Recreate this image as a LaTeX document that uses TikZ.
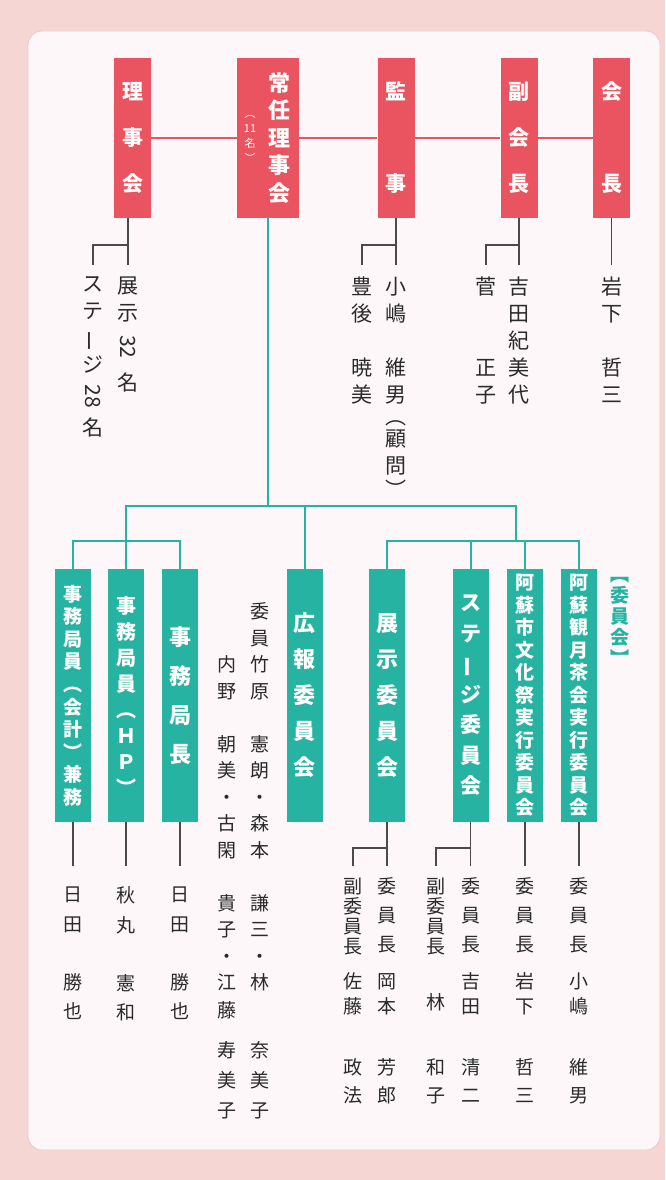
\documentclass[tikz,border=0pt]{standalone}
\usepackage{fontspec}
\usepackage{graphicx}
\newfontfamily\jp{Noto Sans CJK JP}
\newcommand\vbar{\rotatebox[origin=c]{90}{ー}}
\newcommand\rotnum[1]{\rotatebox[origin=c]{-90}{#1}}
\newcommand\tightlines{\lineskiplimit=-1000pt\lineskip=0pt\relax}
\definecolor{bgpink}{HTML}{F6D6D3}
\definecolor{panel}{HTML}{FDF7FA}
\definecolor{paneledge}{HTML}{EBC9CB}
\definecolor{boxred}{HTML}{EA5460}
\definecolor{boxteal}{HTML}{27B3A2}
\definecolor{linegray}{HTML}{4A4A4A}
\definecolor{ink}{HTML}{2A2A2A}
\begin{document}
\begin{tikzpicture}[x=1pt,y=-1pt,
  redbox/.style={fill=boxred, minimum width=37pt, minimum height=160pt, inner sep=0pt,
    text=white, align=center, font=\jp\bfseries\tightlines\fontsize{21}{46}\selectfont},
  tealbox/.style={fill=boxteal, minimum width=36pt, minimum height=253pt, inner sep=0pt,
    text=white, align=center},
  tf/.style n args={2}{font=\jp\bfseries\tightlines\fontsize{#1}{#2}\selectfont},
  unames/.style={anchor=north, inner sep=0pt, align=center, text=ink,
    font=\jp\tightlines\fontsize{21}{27}\selectfont},
  lnames/.style={anchor=north, inner sep=0pt, align=center, text=ink,
    font=\jp\tightlines\fontsize{19}{20}\selectfont},
  redline/.style={draw=boxred, line width=1.6pt},
  tealline/.style={draw=boxteal, line width=2pt},
  nameline/.style={draw=linegray, line width=1.2pt}
]
\fill[bgpink] (0,0) rectangle (665,1180);
\useasboundingbox (0,0) rectangle (665,1180);
\filldraw[fill=panel, draw=paneledge, line width=0.8pt, rounded corners=14pt] (28,31) rectangle (660,1150);

% ---- top row (red) ----
\node[redbox] (kaicho) at (611.5,138) {会\\[46pt]長};
\node[redbox] (fuku) at (519,138) {副\\会\\長};
\node[redbox] (kansa) at (396,138) {監\\[46pt]事};
\node[redbox, minimum width=62pt] (jonin) at (268,138) {};
\node[text=white, align=center, inner sep=0pt, font=\jp\bfseries\tightlines\fontsize{22}{27.5}\selectfont] (jonin-t) at (279,138) {常\\任\\理\\事\\会};
\node[text=white, align=center, inner sep=0pt, font=\jp\tightlines\fontsize{11}{15}\selectfont] (jonin-s) at (250,139) {︵\\11\\名\\︶};
\node[redbox] (rijikai) at (132.5,138) {理\\事\\会};

\draw[redline] (rijikai) -- (jonin);
\draw[redline] (jonin) -- (kansa);
\draw[redline] (kansa) -- (fuku);
\draw[redline] (fuku) -- (kaicho);

% ---- top names ----
\node[unames] (n-iwashita) at (611.5,276.5) {岩\\下\\[27pt]哲\\三};
\node[unames] (n-yoshida) at (519,276.5) {吉\\田\\紀\\美\\代};
\node[unames] (n-suga) at (486,276.5) {菅\\[54pt]正\\子};
\node[unames] (n-kojima) at (396,276.5) {小\\嶋\\[27pt]維\\男\\[-5pt]︵\\[-5pt]顧\\問\\[-3pt]︶};
\node[unames] (n-bungo) at (362,276.5) {豊\\後\\[27pt]暁\\美};
\node[unames] (n-tenji32) at (128,276.5) {展\\示\\[7pt]\rotnum{32}\\[9pt]名};
\node[unames] (n-stage28) at (93,276.5) {ス\\テ\\\vbar\\ジ\\[4pt]\rotnum{28}\\[5pt]名};

\coordinate (topEnd) at (0,265);
\coordinate (topBr) at (0,245);
\draw[nameline] (kaicho.south) -- (kaicho.south |- topEnd);
\draw[nameline] (fuku.south) -- (fuku.south |- topEnd);
\draw[nameline] (fuku.south |- topBr) -| (n-suga.north |- topEnd);
\draw[nameline] (kansa.south) -- (kansa.south |- topEnd);
\draw[nameline] (kansa.south |- topBr) -| (n-bungo.north |- topEnd);
\draw[nameline] (n-tenji32.north |- rijikai.south) -- (n-tenji32.north |- topEnd);
\draw[nameline] (n-tenji32.north |- topBr) -| (n-stage28.north |- topEnd);

% ---- committees (teal) ----
\node[tealbox, tf={19}{22.5}] (tsukimi) at (579,695.5) {阿\\蘇\\観\\月\\茶\\会\\実\\行\\委\\員\\会};
\node[tealbox, tf={19}{22.5}] (bunka) at (525,695.5) {阿\\蘇\\市\\文\\化\\祭\\実\\行\\委\\員\\会};
\node[tealbox, tf={21}{30.5}] (stage) at (470.5,695.5) {ス\\テ\\\vbar\\ジ\\委\\員\\会};
\node[tealbox, tf={22}{36}] (tenji) at (387,695.5) {展\\示\\委\\員\\会};
\node[tealbox, tf={22}{36}] (kouhou) at (304.5,695.5) {広\\報\\委\\員\\会};
\node[tealbox, tf={22}{39}] (kyokucho) at (180,695.5) {事\\務\\局\\長};
\node[tealbox, tf={20}{26}] (hp) at (126,695.5) {事\\務\\局\\員\\︵\\Ｈ\\Ｐ\\︶};
\node[tealbox, tf={19}{22.6}] (kaikei) at (73,695.5) {事\\務\\局\\員\\︵\\会\\計\\︶\\兼\\務};

\node[anchor=north, inner sep=0pt, align=center, text=boxteal, tf={19}{21}] (iinkai-label) at (620,577) {︻\\委\\員\\会\\︼};

\coordinate (busL) at (126,506);
\coordinate (busR) at (516,506);
\coordinate (grR) at (516,541);
\coordinate (grL) at (126,541);
\draw[tealline] (jonin.south) -- (jonin.south |- busL);
\draw[tealline] (hp.north) -- (busL) -- (busR) -- (grR);
\draw[tealline] (kouhou.north |- busL) -- (kouhou.north);
\draw[tealline] (tenji.north) -- (tenji.north |- grR) -- (tsukimi.north |- grR) -- (tsukimi.north);
\draw[tealline] (bunka.north |- grR) -- (bunka.north);
\draw[tealline] (stage.north |- grR) -- (stage.north);
\draw[tealline] (kaikei.north) -- (kaikei.north |- grL) -- (kyokucho.north |- grL) -- (kyokucho.north);

% ---- committee names ----
\node[lnames] (n-tsukimi) at (579,877.5) {委\\[9pt]員\\[9pt]長\\[17pt]小\\[5pt]嶋\\[41pt]維\\[8pt]男};
\node[lnames] (n-bunka) at (525,877.5) {委\\[9pt]員\\[9pt]長\\[17pt]岩\\[5pt]下\\[41pt]哲\\[8pt]三};
\node[lnames] (n-stage1) at (470.5,877.5) {委\\[9pt]員\\[9pt]長\\[17pt]吉\\[5pt]田\\[41pt]清\\[8pt]二};
\node[lnames] (n-stage2) at (436,877.5) {副\\委\\員\\長\\[36pt]林\\[45pt]和\\[8pt]子};
\node[lnames] (n-tenji1) at (387,877.5) {委\\[9pt]員\\[9pt]長\\[17pt]岡\\[5pt]本\\[41pt]芳\\[8pt]郎};
\node[lnames] (n-tenji2) at (353,877.5) {副\\委\\員\\長\\[15pt]佐\\[5pt]藤\\[41pt]政\\[8pt]法};
\node[lnames] (n-kouhou1) at (260,602.5) {委\\[6.5pt]員\\[6.5pt]竹\\[6.5pt]原\\[33pt]憲\\[6.5pt]朗\\[6.5pt]・\\[6.5pt]森\\[6.5pt]本\\[33pt]謙\\[6.5pt]三\\[6.5pt]・\\[6.5pt]林\\[48pt]奈\\[10pt]美\\[10pt]子};
\node[lnames] (n-kouhou2) at (227,655.5) {内\\[6.5pt]野\\[33pt]朝\\[6.5pt]美\\[6.5pt]・\\[6.5pt]古\\[6.5pt]閑\\[33pt]貴\\[6.5pt]子\\[6.5pt]・\\[6.5pt]江\\[8pt]藤\\[20pt]寿\\[10pt]美\\[10pt]子};
\node[lnames] (n-kyokucho) at (180,886.5) {日\\[10pt]田\\[38pt]勝\\[9pt]也};
\node[lnames] (n-hp) at (126,886.5) {秋\\[10pt]丸\\[38pt]憲\\[9pt]和};
\node[lnames] (n-kaikei) at (73,886.5) {日\\[10pt]田\\[38pt]勝\\[9pt]也};

\coordinate (botEnd) at (0,866);
\coordinate (botBr) at (0,848);
\draw[nameline] (tsukimi.south) -- (tsukimi.south |- botEnd);
\draw[nameline] (bunka.south) -- (bunka.south |- botEnd);
\draw[nameline] (stage.south) -- (stage.south |- botEnd);
\draw[nameline] (stage.south |- botBr) -| (n-stage2.north |- botEnd);
\draw[nameline] (tenji.south) -- (tenji.south |- botEnd);
\draw[nameline] (tenji.south |- botBr) -| (n-tenji2.north |- botEnd);
\draw[nameline] (kyokucho.south) -- (kyokucho.south |- botEnd);
\draw[nameline] (hp.south) -- (hp.south |- botEnd);
\draw[nameline] (kaikei.south) -- (kaikei.south |- botEnd);
\end{tikzpicture}
\end{document}
